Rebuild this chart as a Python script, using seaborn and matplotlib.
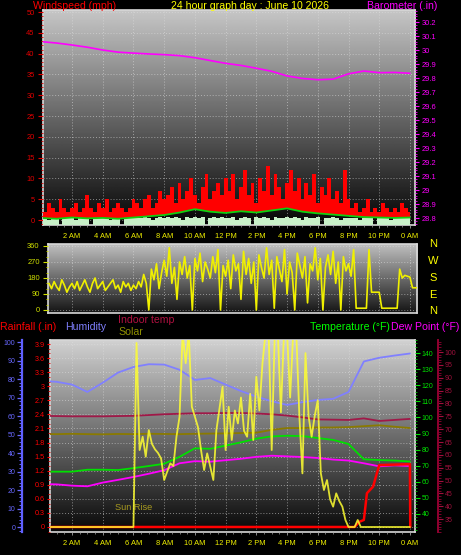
import numpy as np
import pandas as pd
import matplotlib
matplotlib.use("Agg")
import matplotlib.pyplot as plt
from matplotlib.ticker import MultipleLocator, FixedLocator, FuncFormatter
import seaborn as sns

# ------------------------------------------------------------------ data
hour_labels = ["2 AM", "4 AM", "6 AM", "8 AM", "10 AM", "12 PM",
               "2 PM", "4 PM", "6 PM", "8 PM", "10 PM", "0 AM"]

# Panel 1 - wind (mph), 15 minute samples 0:00 .. 24:00
wind_gust = [3, 2, 4, 3, 2, 5, 3, 2, 3, 4, 2, 3, 6, 3, 2, 4, 3, 5, 2, 3, 4, 3, 2, 3, 5,
             4, 3, 5, 6, 3, 4, 7, 5,
             6, 8, 4, 9, 5, 7, 10, 6, 4, 8, 11, 5, 7, 9, 6, 10,
             7, 11, 5, 8, 12, 6, 9, 4, 10, 7, 13, 6, 11, 8, 5, 9,
             12, 7, 10, 5, 9, 6, 11, 4, 8, 6, 10, 5, 7, 4, 12, 5,
             3, 4, 2, 3, 5, 2, 3, 2, 4, 3, 2, 3, 2, 4, 3, 2]
wind_calm = [0.4, 0.4, 0.0, 0.4, 0.4, -1.2, 0.4, 0.4, 0.4, 0.0, 0.4, 0.4, 0.4, -1.2, 0.4, 0.4,
             0.4, 0.4, 0.0, 0.4, 0.4, -1.2, 0.4, 0.4, 0.4,
             0.4, 0.4, 0.8, 0.4, 0.0, 0.4, 0.8, 0.4,
             0.8, 0.4, 0.8, 0.4, 0.0, 0.8, 0.4, 0.8, 0.4, 0.8, -1.2, 0.4, 0.8, 0.4, 0.8, 0.4,
             0.4, 0.8, 0.0, 0.4, 0.8, 0.4, -1.2, 0.8, 0.4, 0.8, 0.4, 0.0, 0.8, 0.4, 0.4, 0.8,
             0.4, 0.8, 0.4, 0.0, 0.8, 0.4, 0.4, 0.8, -1.2, 0.4, 0.4, 0.8, 0.4, 0.0, 0.4, 0.4,
             0.4, 0.4, 0.0, 0.4, 0.4, 0.4, -1.2, 0.4, 0.4, 0.4, 0.0, 0.4, 0.4, 0.4, 0.4, 0.4]
# hourly 0..24
wind_avg = [0.5, 0.3, 0.6, 0.4, 0.5, 0.3, 0.6, 0.9, 1.2, 1.8, 2.6, 2.0, 1.7, 2.1, 1.8,
            2.3, 2.8, 2.0, 1.6, 1.3, 1.0, 0.7, 0.6, 0.5, 0.6]
barometer = [30.06, 30.05, 30.036, 30.02, 30.0, 29.985, 29.978, 29.972, 29.967, 29.96,
             29.945, 29.925, 29.905, 29.89, 29.87, 29.848, 29.815, 29.797, 29.788, 29.792,
             29.83, 29.85, 29.838, 29.84, 29.834]

# Panel 2 - wind direction (deg), 10 minute samples from 0:30
wind_dir = [150, 120, 160, 130, 110, 170, 140, 100, 130, 150,
            120, 160, 110, 140, 170, 130, 100, 150, 180, 120,
            140, 160, 110, 130, 150, 170, 120, 140, 100, 160,
            130, 150, 110, 140, 120, 160, 130,
            200, 150, 0, 230, 170, 260, 120, 210, 280, 190,
            350, 150, 240, 60, 270, 200, 300, 180, 250, 0,
            290, 220, 320, 160, 270, 230, 180, 300, 210, 340,
            0, 250, 190, 280, 120, 310, 220, 260, 60, 330,
            200, 290, 150, 270, 0, 310, 240, 180, 350, 200,
            280, 10, 300, 230, 160, 340, 90, 270, 210, 0,
            320, 250, 180, 300, 40, 260, 220, 350, 170, 290,
            0, 240, 310, 200, 330, 150, 270, 0, 300, 220,
            260, 190,
            340, 10, 10, 10, 10, 10, 340, 100, 100, 100, 100,
            10, 10, 10, 10, 10, 10, 10, 230, 180, 195, 190, 185, 125, 125, 125]

# Panel 3 - hourly 0..24
humidity = [79, 78.5, 77, 73, 78, 83.5, 86.5, 88, 87.8, 85, 79.5, 80.5, 77, 73.5, 70.5,
            68, 66, 67.5, 68.7, 69.3, 73, 89.5, 91.5, 92.7, 93.8]
indoor_humidity = [50.3, 50.2, 50.4, 50.2, 50.1, 50.3, 50.2, 50.4, 50.3, 50.2, 50.4, 50.5,
                   50.6, 50.8, 51, 52.5, 53.5, 53.5, 53.8, 53.8, 54, 54.5, 55, 54.2, 53.5]
indoor_temp = [75.2, 75.1, 75.0, 75.0, 75.0, 75.1, 75.2, 75.5, 75.8, 76.0, 76.2, 76.2,
               76.3, 76.3, 76.1, 75.8, 75.3, 74.6, 73.8, 73.7, 73.6, 74.2, 73.2, 73.6, 74.0]
temperature = [66.3, 66.3, 66.3, 67.5, 67.5, 67.3, 68.5, 69.8, 71.2, 75.5, 80.8, 80.5,
               82.5, 84.5, 86.8, 88.2, 88.6, 88.4, 87.2, 86.0, 83.5, 74.0, 73.5, 73.2, 72.6]
dew_point = [58.6, 58.4, 57.6, 57.2, 59.5, 61.2, 63, 65, 67.2, 71.5, 72.8, 72.5, 73.4,
             74.3, 75.5, 76.2, 75.8, 75.4, 74.8, 73.8, 73.2, 71.5, 69.6, 70.2, 69.8]
# solar (W/m2), 12 minute samples 0:00 .. 24:00
solar = [0, 0, 0, 0, 0, 0, 0, 0, 0, 0, 0, 0, 0, 0, 0, 0, 0, 0, 0, 0,
         0, 0, 0, 0, 0, 0, 0, 0, 0, 0, 0,
         995, 416, 488, 380, 524, 450, 420, 400, 370, 254,
         300, 344, 330, 488, 596, 1050, 886, 1050, 650, 596,
         540, 416, 308, 398, 326, 254, 524, 640, 758, 416,
         650, 470, 630, 560, 700, 520, 488, 720, 470, 812,
         630, 886, 1050, 1050, 416, 1050, 1050, 620, 1050, 1050,
         700, 1050, 1050, 600, 290, 940, 600, 488, 600, 686,
         290, 200, 254, 150, 110, 182, 140, 110, 38, 0,
         0, 0, 38, 0,
         0, 0, 0, 0, 0, 0, 0, 0, 0, 0, 0, 0, 0, 0, 0, 0]
rain_time = [0, 20.4, 20.7, 21.0, 21.2, 21.6, 22.0, 24.0, 24.02]
rain_in = [0, 0, 0.11, 0.15, 0.72, 0.86, 1.32, 1.34, 0]

# ------------------------------------------------------------------ style
sns.set_theme(style="dark", rc={"figure.facecolor": "black", "axes.facecolor": "none"})
plt.rcParams["font.family"] = ["Liberation Sans", "DejaVu Sans"]

W, H = 461, 555
fig = plt.figure(figsize=(W / 100, H / 100), dpi=100, facecolor="black")


def rect(l, t, r, b):
    return [l / W, 1 - b / H, (r - l) / W, (b - t) / H]


def px_hour(px):
    return (px - 41.3) / 15.36


def fx(px):
    return px / W


def fy(py):
    return 1 - py / H


def make_bg(rc, xlim, ylim, top, bottom, ygrid):
    bg = fig.add_axes(rc)
    grad = np.linspace(top, bottom, 256).reshape(-1, 1)
    bg.imshow(grad, aspect="auto", cmap="gray", vmin=0, vmax=1,
              extent=[xlim[0], xlim[1], ylim[0], ylim[1]], origin="upper",
              interpolation="bilinear")
    bg.set_xlim(xlim)
    bg.set_ylim(ylim)
    bg.set_xticks(range(2, 25, 2))
    bg.set_yticks(ygrid)
    bg.grid(True, color="#e0e0e0", linestyle=(0, (1, 2)), linewidth=0.7, alpha=0.55)
    bg.tick_params(length=0, labelleft=False, labelbottom=False)
    for s in bg.spines.values():
        s.set_color("#d8d8d8")
        s.set_linewidth(1.2)
    return bg


def clean(ax):
    ax.patch.set_visible(False)
    for s in ax.spines.values():
        s.set_visible(False)
    ax.set_xlabel("")
    ax.set_ylabel("")


def xaxis_labels(ax):
    ax.set_xticks(range(2, 25, 2))
    ax.set_xticklabels(hour_labels)
    ax.xaxis.set_minor_locator(MultipleLocator(0.5))
    ax.tick_params(axis="x", which="major", colors="#a0a0a0", labelcolor="#f0f000",
                   labelsize=5.4, length=2.5, width=0.6, pad=3.5, bottom=True)
    ax.tick_params(axis="x", which="minor", colors="#a0a0a0", length=1.3, width=0.5, bottom=True)


fmt_g = FuncFormatter(lambda v, p: f"{v:g}")

# ------------------------------------------------------------------ panel 1
t15 = np.arange(len(wind_gust)) * 0.25
th = np.arange(len(wind_avg))
xl1 = (px_hour(43), px_hour(415))
yl1 = (-1.2, 50.5)
r1 = rect(43, 10, 415, 225)
make_bg(r1, xl1, yl1, 0.78, 0.02, range(0, 51, 5))

ax1 = fig.add_axes(r1)
ax1.set_xlim(xl1)
ax1.set_ylim(yl1)
avg_line = np.interp(t15, th, wind_avg)
ax1.fill_between(t15, avg_line, wind_gust, step="mid", color="#ff0000", linewidth=0)
ax1.fill_between(t15, yl1[0], wind_calm, step="mid", color="#c8f0c8", linewidth=0)
sns.lineplot(x=th, y=wind_avg, color="#10d010", linewidth=1.3, ax=ax1)
clean(ax1)
ax1.set_xlim(xl1)
ax1.set_ylim(yl1)
ax1.yaxis.set_major_locator(MultipleLocator(5))
ax1.yaxis.set_minor_locator(MultipleLocator(1))
ax1.tick_params(axis="y", which="major", colors="#e00000", labelsize=5.4, length=3.5,
                width=0.8, pad=2.5, left=True)
ax1.tick_params(axis="y", which="minor", colors="#e00000", length=1.8, width=0.6, left=True)
xaxis_labels(ax1)

ax1b = ax1.twinx()
sns.lineplot(x=th, y=barometer, color="#ff00ff", linewidth=1.2, ax=ax1b)
clean(ax1b)
ax1b.set_ylim(28.75, 30.286)
ax1b.yaxis.set_major_locator(MultipleLocator(0.1))
ax1b.yaxis.set_minor_locator(MultipleLocator(0.02))
ax1b.yaxis.set_major_formatter(fmt_g)
ax1b.tick_params(axis="y", which="major", colors="#ff00ff", labelsize=5.4, length=3,
                 width=0.8, pad=1.5, right=True)
ax1b.tick_params(axis="y", which="minor", colors="#ff00ff", length=1.5, width=0.6, right=True)

# ------------------------------------------------------------------ panel 2
tdir = 0.5 + np.arange(len(wind_dir)) / 6
xl2 = (px_hour(48), px_hour(417))
yl2 = (-16.9, 371.25)
r2 = rect(48, 244, 417, 313)
make_bg(r2, xl2, yl2, 0.75, 0.08, range(0, 361, 90))
ax2 = fig.add_axes(r2)
sns.lineplot(x=tdir, y=wind_dir, color="#f0f000", linewidth=1.2, ax=ax2)
clean(ax2)
ax2.set_xlim(xl2)
ax2.set_ylim(yl2)
ax2.set_xticks([])
ax2.yaxis.set_major_locator(MultipleLocator(90))
ax2.yaxis.set_minor_locator(MultipleLocator(30))
ax2.tick_params(axis="y", which="major", colors="#d0e000", labelsize=5.4, length=3.5,
                width=0.8, pad=2.5, left=True)
ax2.tick_params(axis="y", which="minor", colors="#d0e000", length=1.5, width=0.6, left=True)

for lab, py in zip(["N", "W", "S", "E", "N"], [244, 261, 278, 295, 311]):
    fig.text(fx(433), fy(py), lab, color="#ffff00", fontsize=8, ha="center", va="center")

# ------------------------------------------------------------------ panel 3
xl3 = (px_hour(50), px_hour(415))
r3 = rect(50, 340, 415, 532)
yl_rain = (-0.107, 3.987)
make_bg(r3, xl3, yl_rain, 0.82, 0.03, np.arange(0, 3.95, 0.3))

# humidity (main axes, spine moved outwards to the left)
ax3 = fig.add_axes(r3)
sns.lineplot(x=th, y=humidity, color="#8080ff", linewidth=1.3, ax=ax3)
sns.lineplot(x=th, y=indoor_humidity, color="#8a7a00", linewidth=1.3, ax=ax3)
clean(ax3)
ax3.set_xlim(xl3)
ax3.set_ylim(-2.7, 101.1)
ax3.spines["left"].set_visible(True)
ax3.spines["left"].set_position(("outward", 20))
ax3.spines["left"].set_color("#6060ff")
ax3.spines["left"].set_linewidth(1.6)
ax3.yaxis.set_major_locator(MultipleLocator(10))
ax3.yaxis.set_minor_locator(MultipleLocator(2))
ax3.tick_params(axis="y", which="major", colors="#6868ff", labelsize=5.0, length=3.5,
                width=0.9, pad=1.5, left=True)
ax3.tick_params(axis="y", which="minor", colors="#6868ff", length=2, width=0.7, left=True)
xaxis_labels(ax3)
ax3.text(4.8, 10.8, "Sun Rise", color="#a89a20", fontsize=6.6, va="center", ha="left")

# indoor temperature (outer right axis)
ax_in = ax3.twinx()
sns.lineplot(x=th, y=indoor_temp, color="#a01848", linewidth=1.3, ax=ax_in)
clean(ax_in)
ax_in.set_ylim(30.0, 104.7)
ax_in.spines["right"].set_visible(True)
ax_in.spines["right"].set_position(("axes", (438 - 50) / 365))
ax_in.spines["right"].set_color("#900030")
ax_in.spines["right"].set_linewidth(1.4)
ax_in.yaxis.set_major_locator(FixedLocator(range(35, 101, 5)))
ax_in.yaxis.set_minor_locator(MultipleLocator(1))
ax_in.tick_params(axis="y", which="major", colors="#a0103c", labelsize=5.0, length=3.5,
                  width=0.8, pad=1.5, right=True)
ax_in.tick_params(axis="y", which="minor", colors="#900030", length=1.8, width=0.6, right=True)

# outdoor temperature + dew point (green right axis)
ax_t = ax3.twinx()
sns.lineplot(x=th, y=temperature, color="#00e000", linewidth=1.3, ax=ax_t)
sns.lineplot(x=th, y=dew_point, color="#ff00ff", linewidth=1.3, ax=ax_t)
clean(ax_t)
ax_t.set_ylim(28.8, 148.1)
ax_t.yaxis.set_major_locator(FixedLocator(range(40, 141, 10)))
ax_t.yaxis.set_minor_locator(MultipleLocator(2))
ax_t.tick_params(axis="y", which="major", colors="#00e000", labelsize=5.0, length=3.5,
                 width=0.8, pad=1.5, right=True)
ax_t.tick_params(axis="y", which="minor", colors="#00c000", length=1.5, width=0.6, right=True)

# rainfall (red left axis)
ax_r = ax3.twinx()
sns.lineplot(x=rain_time, y=rain_in, color="#ff0000", linewidth=1.8, ax=ax_r,
             estimator=None, sort=False)
clean(ax_r)
ax_r.set_ylim(yl_rain)
ax_r.yaxis.tick_left()
ax_r.yaxis.set_major_locator(MultipleLocator(0.3))
ax_r.yaxis.set_minor_locator(MultipleLocator(0.1))
ax_r.yaxis.set_major_formatter(fmt_g)
ax_r.tick_params(axis="y", which="major", colors="#ff0000", labelsize=5.2, length=2.5,
                 width=0.8, pad=1.2, left=True, right=False)
ax_r.tick_params(axis="y", which="minor", colors="#e00000", length=1.2, width=0.6,
                 left=True, right=False)

# solar (hidden axis)
tsol = np.arange(len(solar)) * 0.2
ax_s = ax3.twinx()
sns.lineplot(x=tsol, y=solar, color="#ffff30", linewidth=1.3, alpha=0.85, ax=ax_s)
clean(ax_s)
ax_s.set_ylim(-27, 1011)
ax_s.set_yticks([])
for a in (ax_in, ax_t, ax_r, ax_s):
    a.set_xlim(xl3)

# ------------------------------------------------------------------ header texts
hdr = 7.6
fig.text(fx(33), fy(6), "Windspeed (mph)", color="#ff0000", fontsize=hdr, va="center")
fig.text(fx(250), fy(6), "24 hour graph day : June 10 2026", color="#ffff00",
         fontsize=hdr, va="center", ha="center")
fig.text(fx(367), fy(6), "Barometer (.in)", color="#ff00ff", fontsize=hdr, va="center")

fig.text(fx(0), fy(327), "Rainfall (.in)", color="#ff0000", fontsize=hdr, va="center")
fig.text(fx(65), fy(327), "Humidity", color="#8080ff", fontsize=hdr, va="center")
fig.text(fx(118), fy(320), "Indoor temp", color="#b01040", fontsize=hdr, va="center")
fig.text(fx(118), fy(332), "Solar", color="#909000", fontsize=hdr, va="center")
fig.text(fx(310), fy(327), "Temperature (°F)", color="#00ff00", fontsize=hdr, va="center")
fig.text(fx(391), fy(327), "Dew Point (°F)", color="#ff00ff", fontsize=hdr, va="center")

fig.savefig("out.png", dpi=100, facecolor="black")
